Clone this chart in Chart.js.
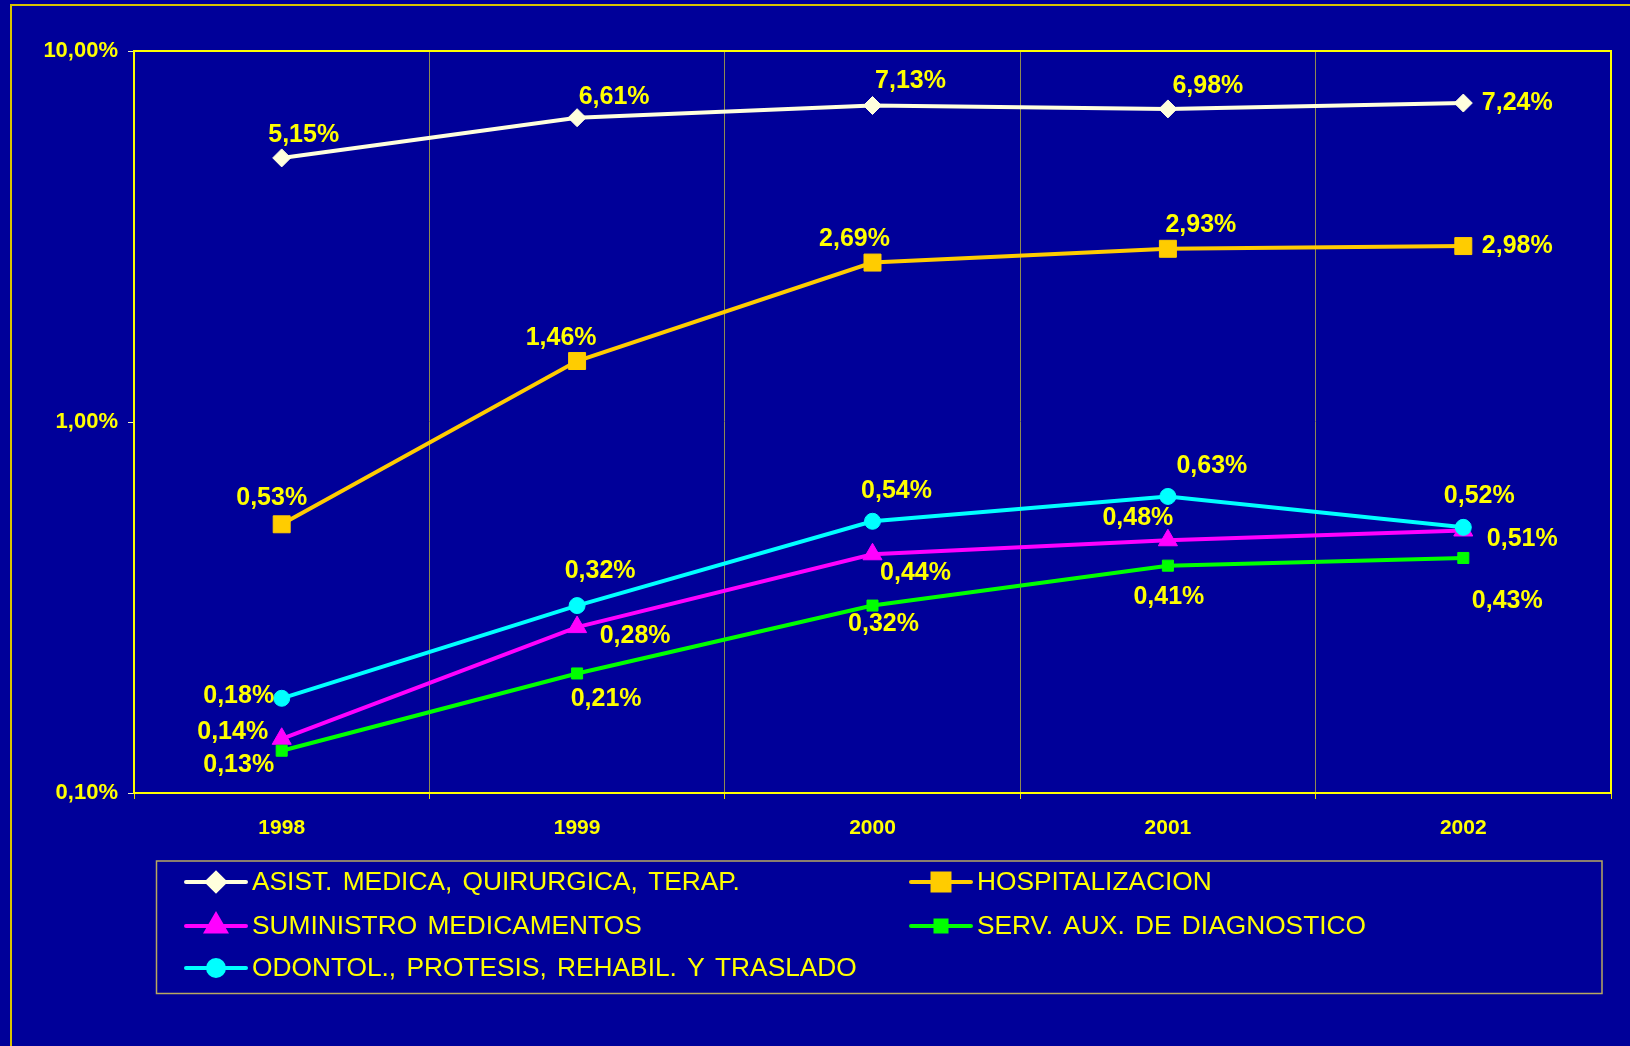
<!DOCTYPE html>
<html>
<head>
<meta charset="utf-8">
<script src="https://cdn.jsdelivr.net/npm/chart.js@4.4.1/dist/chart.umd.min.js"></script>
<style>
  html, body { margin: 0; padding: 0; background: #000099; }
  canvas { display: block; }
</style>
</head>
<body>
<canvas id="chart" width="1630" height="1046"></canvas>
<script>
const years = ['1998', '1999', '2000', '2001', '2002'];
const seriesNames = [
  'ASIST. MEDICA, QUIRURGICA, TERAP.',
  'HOSPITALIZACION',
  'SUMINISTRO MEDICAMENTOS',
  'SERV. AUX. DE DIAGNOSTICO',
  'ODONTOL., PROTESIS, REHABIL. Y TRASLADO'
];
const asistValues = [5.15, 6.61, 7.13, 6.98, 7.24];
const hospValues = [0.53, 1.46, 2.69, 2.93, 2.98];
const suministroValues = [0.14, 0.28, 0.44, 0.48, 0.51];
const servAuxValues = [0.13, 0.21, 0.32, 0.41, 0.43];
const odontolValues = [0.18, 0.32, 0.54, 0.63, 0.52];
const yTickValues = [0.1, 1, 10];

// label offsets from each point, in px (hand placed like the original slide)
const labelOffsets = [
  [[22, -23], [37, -21], [38, -24], [40, -23], [54, 0]],
  [[-10, -26], [-16, -23], [-18, -23], [33, -24], [54, 0]],
  [[-49, -7], [58, 9], [43, 19], [-30, -22], [59, 9]],
  [[-43, 14], [29, 26], [11, 19], [1, 31], [44, 43]],
  [[-43, -2], [23, -34], [24, -30], [44, -30], [16, -31]]
];

const FONT = "'Liberation Sans', Arial, sans-serif";
const YELLOW = '#ffff00';

const styles = [
  { color: '#ffffdd', pointStyle: 'rectRot', radius: 9 },
  { color: '#ffcc00', pointStyle: 'rect', radius: 12 },
  { color: '#ff00ff', pointStyle: 'triangle', radius: 11 },
  { color: '#00ff00', pointStyle: 'rect', radius: 7.8 },
  { color: '#00ffff', pointStyle: 'circle', radius: 8 }
];
const allValues = [asistValues, hospValues, suministroValues, servAuxValues, odontolValues];

const fmtPct = (v) => v.toFixed(2).replace('.', ',') + '%';

const datasets = allValues.map((values, i) => ({
  label: seriesNames[i],
  data: values,
  borderColor: styles[i].color,
  backgroundColor: styles[i].color,
  borderWidth: 4,
  tension: 0,
  pointStyle: styles[i].pointStyle,
  pointRadius: styles[i].radius,
  pointHoverRadius: styles[i].radius,
  pointBorderWidth: 1,
  pointBackgroundColor: styles[i].color,
  pointBorderColor: styles[i].color,
  order: allValues.length - i
}));

const frameAndBackground = {
  id: 'frameAndBackground',
  beforeDraw(chart) {
    const { ctx, width, height } = chart;
    ctx.save();
    ctx.fillStyle = '#000099';
    ctx.fillRect(0, 0, width, height);
    ctx.strokeStyle = '#d9c400';
    ctx.lineWidth = 2;
    ctx.beginPath();
    ctx.moveTo(11, height);
    ctx.lineTo(11, 5);
    ctx.lineTo(width, 5);
    ctx.stroke();
    ctx.restore();
  },
  beforeDatasetsDraw(chart) {
    const { ctx, chartArea: a } = chart;
    ctx.save();
    ctx.strokeStyle = YELLOW;
    ctx.lineWidth = 2;
    ctx.strokeRect(a.left, a.top, a.right - a.left, a.bottom - a.top);
    ctx.restore();
  }
};

const pointLabels = {
  id: 'pointLabels',
  afterDatasetsDraw(chart) {
    const { ctx } = chart;
    ctx.save();
    ctx.fillStyle = YELLOW;
    ctx.font = `bold 25px ${FONT}`;
    ctx.textAlign = 'center';
    ctx.textBaseline = 'middle';
    chart.data.datasets.forEach((ds, i) => {
      chart.getDatasetMeta(i).data.forEach((pt, j) => {
        const [dx, dy] = labelOffsets[i][j];
        ctx.fillText(fmtPct(ds.data[j]), pt.x + dx, pt.y + dy);
      });
    });
    ctx.restore();
  }
};

const boxLegend = {
  id: 'boxLegend',
  afterDraw(chart) {
    const { ctx } = chart;
    const cols = [186, 911];
    const rows = [882, 926, 968];
    ctx.save();
    ctx.strokeStyle = '#b8a860';
    ctx.lineWidth = 1.5;
    ctx.strokeRect(156.5, 861, 1445.5, 132.5);
    chart.data.datasets.forEach((ds, i) => {
      const x = cols[i % 2];
      const y = rows[Math.floor(i / 2)];
      ctx.strokeStyle = ds.borderColor;
      ctx.lineWidth = 4;
      ctx.lineCap = 'round';
      ctx.beginPath();
      ctx.moveTo(x, y);
      ctx.lineTo(x + 60, y);
      ctx.stroke();
      ctx.fillStyle = ds.backgroundColor;
      ctx.strokeStyle = ds.borderColor;
      Chart.helpers.drawPoint(ctx, {
        pointStyle: ds.pointStyle,
        radius: ds.pointRadius,
        rotation: 0,
        borderWidth: 1
      }, x + 30, y);
      ctx.fillStyle = YELLOW;
      ctx.font = `26.3px ${FONT}`;
      ctx.wordSpacing = '3px';
      ctx.textAlign = 'left';
      ctx.textBaseline = 'middle';
      ctx.fillText(ds.label, x + 66, y + 1);
    });
    ctx.restore();
  }
};

new Chart(document.getElementById('chart'), {
  type: 'line',
  data: { labels: years, datasets },
  plugins: [frameAndBackground, pointLabels, boxLegend],
  options: {
    responsive: false,
    devicePixelRatio: 1,
    animation: false,
    events: [],
    layout: { padding: { left: 0, top: 51, right: 19, bottom: 0 } },
    plugins: { legend: { display: false }, tooltip: { enabled: false } },
    scales: {
      x: {
        type: 'category',
        offset: true,
        afterFit(scale) { scale.height = 253; },
        grid: { offset: true, color: '#8e8a52', lineWidth: 1, tickColor: '#e8e000', tickLength: 6 },
        border: { color: YELLOW, width: 2 },
        ticks: { color: YELLOW, padding: 17, font: { family: FONT, size: 21, weight: 'bold' } }
      },
      y: {
        type: 'logarithmic',
        min: 0.1,
        max: 10,
        afterFit(scale) { scale.width = 134; },
        afterBuildTicks(scale) { scale.ticks = yTickValues.map((v) => ({ value: v })); },
        grid: { drawOnChartArea: false, tickColor: '#f0f0c0', tickLength: 6 },
        border: { color: YELLOW, width: 2 },
        ticks: {
          color: YELLOW,
          padding: 10,
          font: { family: FONT, size: 22, weight: 'bold' },
          callback: (v) => fmtPct(Number(v))
        }
      }
    }
  }
});
</script>
</body>
</html>
